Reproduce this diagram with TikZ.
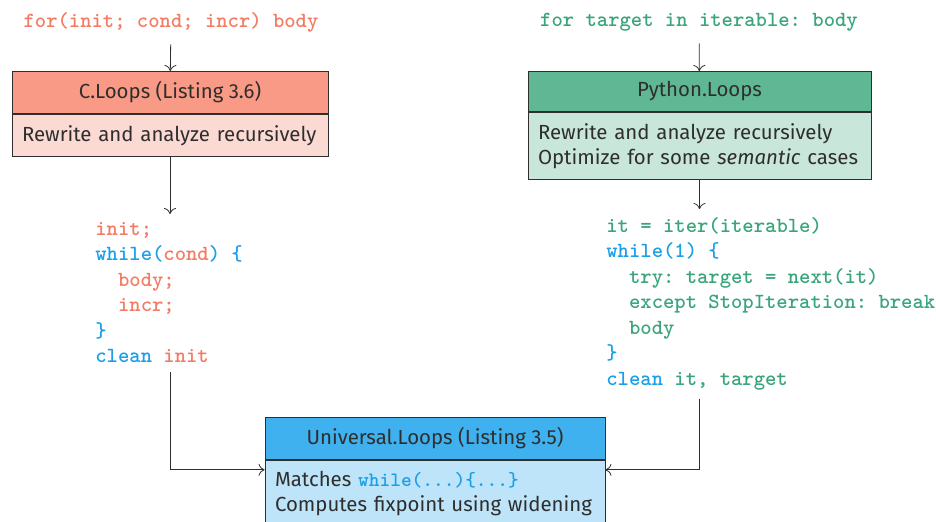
\documentclass[tikz,border=0pt]{standalone}
\usepackage{fontspec}
\setmainfont{Fira Sans}
\setmonofont{lmmono10-regular.otf}[BoldFont=lmmonolt10-bold.otf]
\usetikzlibrary{positioning,arrows.meta}
\definecolor{chead}{HTML}{F99A86}
\definecolor{cbody}{HTML}{FCDAD4}
\definecolor{ccode}{HTML}{F47B63}
\definecolor{pyhead}{HTML}{5FB794}
\definecolor{pybody}{HTML}{C9E6DA}
\definecolor{pycode}{HTML}{3AA57B}
\definecolor{unihead}{HTML}{3FB1EE}
\definecolor{unibody}{HTML}{BEE4F9}
\definecolor{unicode}{HTML}{1B9FE8}
\definecolor{ink}{HTML}{2E2E2E}
\hyphenpenalty=10000
\tikzset{
  head/.style={draw=ink, minimum height=21pt, inner sep=0pt, text=ink,
    font=\fontsize{10.2}{12.5}\selectfont},
  part/.style={draw=ink, inner xsep=5pt, inner ysep=5.5pt, align=left, text=ink,
    font=\fontsize{10.2}{12.5}\selectfont},
  code/.style={inner sep=4pt, align=left,
    font=\fontsize{10.8}{12.75}\selectfont\ttfamily\bfseries},
  link/.style={-{To[length=3pt,width=6pt]}, ink}
}
\newcommand{\kw}[1]{{\color{unicode}#1}}
\newcommand{\ind}{\hphantom{xx}}
\begin{document}
\begin{tikzpicture}[x=0.5pt, y=-0.5pt]
    \useasboundingbox (0,0) rectangle (936,522);
    % C side
    \node[code, text=ccode, inner ysep=6pt] (cLoop) at (171,22) {for(init; cond; incr) body};
    \node[head, fill=chead, minimum width=158pt, anchor=north] (cHead) at (170,71) {C.Loops (Listing 3.6)};
    \node[part, fill=cbody, text width=153pt, inner xsep=2.5pt, below=0pt of cHead] (cBody) {\hspace*{2.5pt}Rewrite and analyze recursively};
    \node[code, text=ccode, anchor=north west] (cCode) at (87,214) {init;\\
        \kw{while(}cond\kw{) \{}\\
        \ind body;\\
        \ind incr;\\
        \kw{\}}\\
        \kw{clean} init};
    % Python side
    \node[code, text=pycode, inner ysep=6pt] (pyLoop) at (699,22) {for target in iterable: body};
    \node[head, fill=pyhead, minimum width=171.5pt, minimum height=20pt, anchor=north] (pyHead) at (699.5,71) {Python.Loops};
    \node[part, fill=pybody, text width=166.5pt, inner xsep=2.5pt, below=0pt of pyHead] (pyBody) {\hspace*{2.5pt}Rewrite and analyze recursively\\
        \hspace*{2.5pt}Optimize for some \emph{semantic} cases};
    \node[code, text=pycode, anchor=north west] (pyCode) at (598,209) {it = iter(iterable)\\
        \kw{while(1) \{}\\
        \ind try: target = next(it)\\
        \ind except StopIteration: break\\
        \ind body\\
        \kw{\}}\\
        \kw{clean} it, target};
    % universal
    \node[head, fill=unihead, minimum width=170pt, anchor=north] (uniHead) at (435,417) {Universal.Loops (Listing 3.5)};
    \node[part, fill=unibody, text width=165pt, inner xsep=2.5pt, below=0pt of uniHead] (uniBody) {\hspace*{2.5pt}Matches {\ttfamily\bfseries\color{unicode}while(...)\{...\}}\\
        \hspace*{2.5pt}Computes fixpoint using widening};
    % connectors
    \draw[link] (cLoop) -- (cHead);
    \draw[link] (cBody.south) -- (cBody.south |- cCode.north);
    \draw[link] (pyLoop) -- (pyHead);
    \draw[link] (pyBody.south) -- (pyBody.south |- pyCode.north);
    \draw[link] (cBody.south |- cCode.south) |- ([yshift=-5pt]uniHead.south west);
    \draw[link] (pyBody.south |- pyCode.south) |- ([yshift=-5pt]uniHead.south east);
\end{tikzpicture}
\end{document}
